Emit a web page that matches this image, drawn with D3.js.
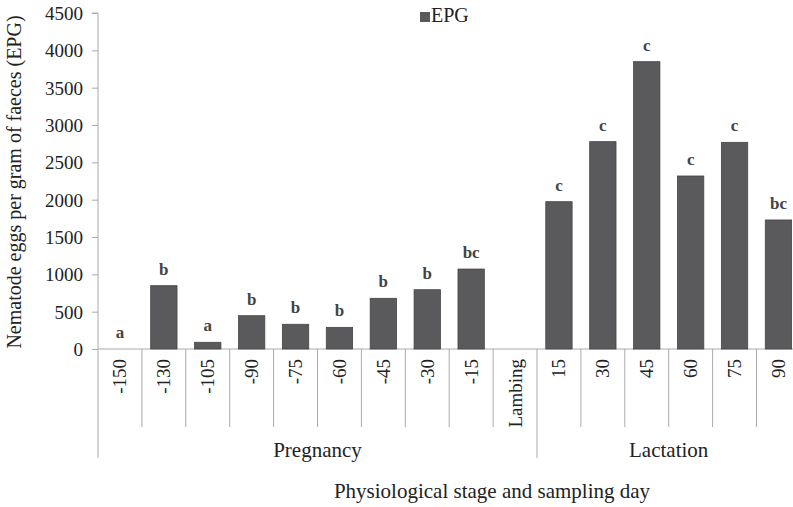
<!DOCTYPE html>
<html>
<head>
<meta charset="utf-8">
<script src="https://cdn.jsdelivr.net/npm/d3@7.9.0/dist/d3.min.js"></script>
<style>
  body { margin: 0; background: #fff; }
  svg text { font-family: "Liberation Serif", "Times New Roman", serif; fill: #222; }
</style>
</head>
<body>
<svg width="793" height="507"></svg>
<script>
// data
const days = ['-150', '-130', '-105', '-90', '-75', '-60', '-45', '-30', '-15', 'Lambing', '15', '30', '45', '60', '75', '90'];
const epg = [0, 848, 90, 446, 331, 290, 679, 794, 1071, null, 1973, 2777, 3848, 2317, 2768, 1728];
const letters = ['a', 'b', 'a', 'b', 'b', 'b', 'b', 'b', 'bc', '', 'c', 'c', 'c', 'c', 'c', 'bc'];
const stages = [
  { label: 'Pregnancy', from: '-150', to: 'Lambing' },
  { label: 'Lactation', from: '15', to: '90' }
];
const yTicks = [0, 500, 1000, 1500, 2000, 2500, 3000, 3500, 4000, 4500];

const svg = d3.select('svg');
const left = 98, baseY = 349, topY = 13;

let x = d3.scaleBand()
  .domain(days)
  .range([left, left + 16 * 43.9])
  .paddingInner(0.4)
  .paddingOuter(0.2);
let step = x.step();
let y = d3.scaleLinear().domain([0, 4500]).range([baseY, topY]);

// y axis
let yAxis = svg.append('g')
  .attr('transform', `translate(${left},0)`)
  .call(d3.axisLeft(y).tickValues(yTicks).tickFormat(d3.format('d')).tickSize(6).tickPadding(9));
yAxis.select('.domain').attr('stroke', '#aaa').attr('d', `M-6,${topY}H0V${baseY}`);
yAxis.selectAll('.tick line').attr('stroke', '#aaa');
yAxis.selectAll('.tick text')
  .attr('font-size', 19)
  .attr('dy', '0.34em');

// baseline
svg.append('line')
  .attr('x1', left).attr('x2', 793)
  .attr('y1', baseY).attr('y2', baseY)
  .attr('stroke', '#aaa');

// category separators
let catEdge = (d) => x(d) - step * x.paddingOuter();
days.forEach((d, i) => {
  let edge = catEdge(d);
  let long = i === 0 || d === '15';
  svg.append('line')
    .attr('x1', edge).attr('x2', edge)
    .attr('y1', baseY).attr('y2', long ? 458 : 427)
    .attr('stroke', '#aaa');
});
let lastEdge = catEdge(days[days.length - 1]) + step;
svg.append('line')
  .attr('x1', lastEdge).attr('x2', lastEdge)
  .attr('y1', baseY).attr('y2', 458)
  .attr('stroke', '#aaa');

// day labels, rotated
svg.selectAll('.day')
  .data(days)
  .join('text')
  .attr('class', 'day')
  .attr('transform', (d) => `translate(${x(d) + x.bandwidth() / 2 + 6.5},359) rotate(-90)`)
  .attr('text-anchor', 'end')
  .attr('font-size', 19)
  .text((d) => d);

// stage labels
stages.forEach((s) => {
  let x0 = catEdge(s.from);
  let x1 = catEdge(s.to) + step;
  svg.append('text')
    .attr('x', (x0 + x1) / 2)
    .attr('y', 457)
    .attr('text-anchor', 'middle')
    .attr('font-size', 21)
    .text(s.label);
});

// bars
svg.selectAll('.bar')
  .data(days.map((d, i) => ({ day: d, v: epg[i] })).filter((d) => d.v))
  .join('rect')
  .attr('class', 'bar')
  .attr('x', (d) => x(d.day))
  .attr('y', (d) => y(d.v))
  .attr('width', x.bandwidth())
  .attr('height', (d) => baseY - y(d.v))
  .attr('fill', '#5a5a5c')
  .attr('stroke', '#454545')
  .attr('stroke-width', 0.8);

// significance letters
svg.selectAll('.letter')
  .data(days.map((d, i) => ({ day: d, v: epg[i] || 0, t: letters[i] })).filter((d) => d.t))
  .join('text')
  .attr('class', 'letter')
  .attr('x', (d) => x(d.day) + x.bandwidth() / 2)
  .attr('y', (d) => y(d.v) - 11)
  .attr('text-anchor', 'middle')
  .attr('font-size', 17)
  .attr('font-weight', 'bold')
  .style('fill', '#444')
  .text((d) => d.t);

// legend
svg.append('rect')
  .attr('x', 420).attr('y', 12)
  .attr('width', 10).attr('height', 10)
  .attr('fill', '#5a5a5c');
svg.append('text')
  .attr('x', 431).attr('y', 22)
  .attr('font-size', 20)
  .text('EPG');

// axis titles
svg.append('text')
  .attr('x', 492).attr('y', 498)
  .attr('text-anchor', 'middle')
  .attr('font-size', 21)
  .text('Physiological stage and sampling day');

svg.append('text')
  .attr('transform', 'translate(21,182) rotate(-90)')
  .attr('text-anchor', 'middle')
  .attr('font-size', 20)
  .text('Nematode eggs per gram of faeces (EPG)');
</script>
</body>
</html>
